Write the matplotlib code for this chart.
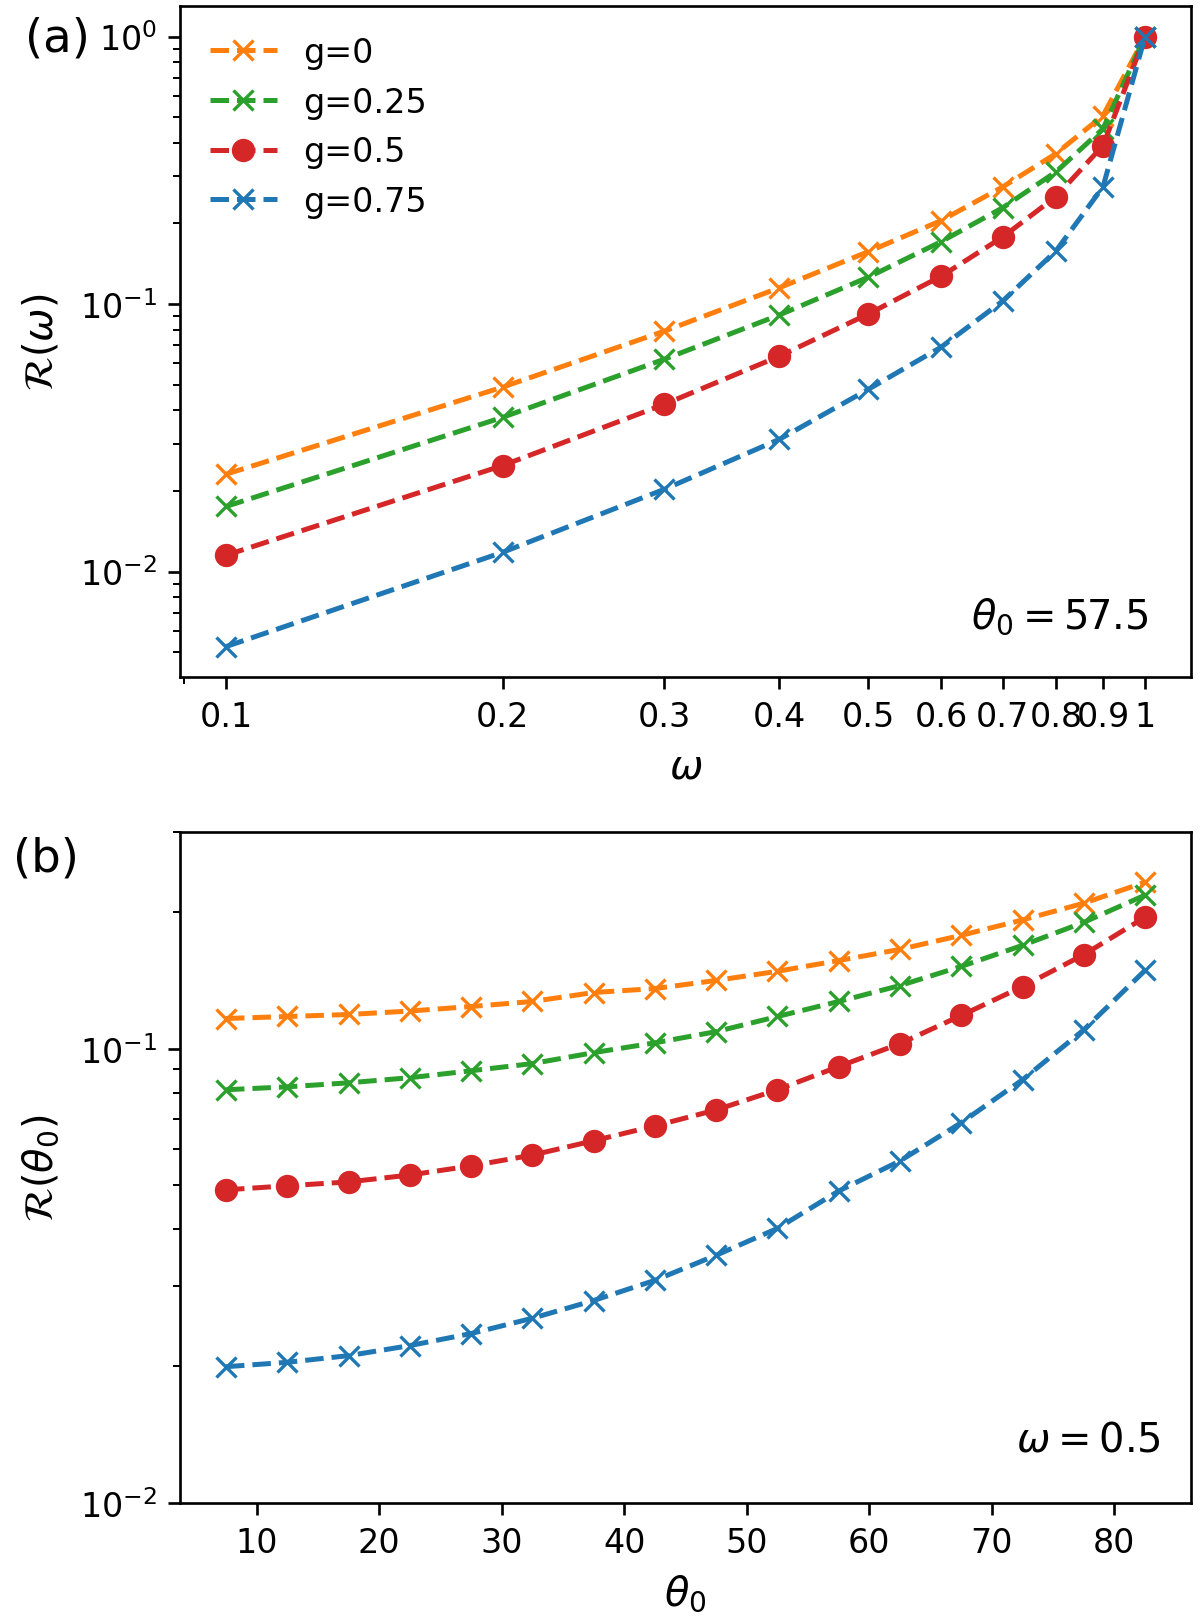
import matplotlib
matplotlib.use("Agg")
import matplotlib.pyplot as plt
from matplotlib.ticker import NullFormatter

# panel (a): R(omega) at theta0 = 57.5
omega = [0.1, 0.2, 0.3, 0.4, 0.5, 0.6, 0.7, 0.8, 0.9, 1.0]
omega_ticklabels = ["0.1", "0.2", "0.3", "0.4", "0.5", "0.6", "0.7", "0.8", "0.9", "1"]
r_omega_g0 = [0.0231, 0.0489, 0.0792, 0.115, 0.157, 0.205, 0.274, 0.365, 0.506, 1.0]
r_omega_g025 = [0.0175, 0.0377, 0.0622, 0.091, 0.126, 0.171, 0.229, 0.312, 0.452, 1.0]
r_omega_g05 = [0.0115, 0.0249, 0.0422, 0.0638, 0.0918, 0.127, 0.178, 0.252, 0.391, 1.0]
r_omega_g075 = [0.00524, 0.0118, 0.0203, 0.0312, 0.048, 0.069, 0.1026, 0.158, 0.274, 1.0]

# panel (b): R(theta0) at omega = 0.5
theta0 = [7.5, 12.5, 17.5, 22.5, 27.5, 32.5, 37.5, 42.5, 47.5, 52.5, 57.5, 62.5, 67.5, 72.5, 77.5, 82.5]
r_theta_g0 = [0.1165, 0.1177, 0.1189, 0.121, 0.1238, 0.127, 0.1329, 0.1356, 0.1413, 0.148,
              0.1563, 0.1654, 0.1776, 0.192, 0.209, 0.2325]
r_theta_g025 = [0.0812, 0.0824, 0.0841, 0.0863, 0.0894, 0.0927, 0.098, 0.103, 0.109, 0.1177,
                0.127, 0.1377, 0.1517, 0.1688, 0.1897, 0.2177]
r_theta_g05 = [0.0489, 0.0499, 0.0509, 0.0527, 0.0552, 0.0583, 0.0627, 0.0676, 0.0733, 0.0812,
               0.0913, 0.1026, 0.1183, 0.137, 0.161, 0.1947]
r_theta_g075 = [0.01995, 0.0204, 0.0211, 0.0222, 0.0236, 0.0255, 0.0279, 0.0309, 0.0351, 0.0402,
                0.0486, 0.0566, 0.0687, 0.0854, 0.110, 0.1487]

labels = ["g=0", "g=0.25", "g=0.5", "g=0.75"]
colors = ["#ff7f0e", "#2ca02c", "#d62728", "#1f77b4"]
markers = ["x", "x", "o", "x"]

fig = plt.figure(figsize=(5, 6.754), dpi=240)
ax1 = fig.add_axes([0.15, 0.5817, 0.8425, 0.414])
ax2 = fig.add_axes([0.15, 0.0722, 0.8425, 0.414])

# --- (a)
for ys, lab, c, m in zip([r_omega_g0, r_omega_g025, r_omega_g05, r_omega_g075], labels, colors, markers):
    ax1.plot(omega, ys, linestyle="--", marker=m, color=c, label=lab)
ax1.set_xscale("log")
ax1.set_yscale("log")
ax1.set_xticks(omega)
ax1.set_xticklabels(omega_ticklabels)
ax1.xaxis.set_minor_formatter(NullFormatter())
ax1.set_xlabel(r"$\omega$", fontsize=12)
ax1.set_ylabel(r"$\mathcal{R}(\omega)$", fontsize=12, labelpad=5.5)
ax1.legend(loc="upper left", frameon=False)
ax1.text(0.958, 0.0745, r"$\theta_0=57.5$", transform=ax1.transAxes,
         ha="right", va="baseline", fontsize=12)

# --- (b)
for ys, lab, c, m in zip([r_theta_g0, r_theta_g025, r_theta_g05, r_theta_g075], labels, colors, markers):
    ax2.plot(theta0, ys, linestyle="--", marker=m, color=c, label=lab)
ax2.set_yscale("log")
ax2.set_ylim(1e-2, 0.3)
ax2.set_xlabel(r"$\theta_0$", fontsize=12)
ax2.set_ylabel(r"$\mathcal{R}(\theta_0)$", fontsize=12, labelpad=5.5)
ax2.text(0.970, 0.0775, r"$\omega=0.5$", transform=ax2.transAxes,
         ha="right", va="baseline", fontsize=12)

fig.text(0.021, 1 - 52 / 1621, "(a)", fontsize=14, ha="left", va="baseline")
fig.text(0.011, 1 - 872 / 1621, "(b)", fontsize=14, ha="left", va="baseline")

fig.savefig("out.png", dpi=240)
